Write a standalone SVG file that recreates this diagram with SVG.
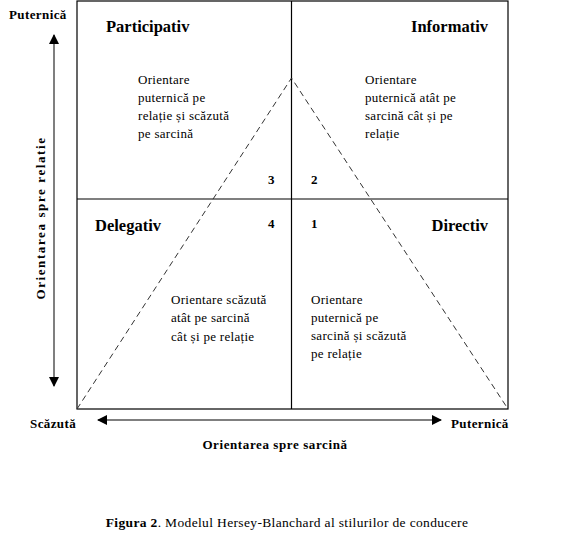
<svg xmlns="http://www.w3.org/2000/svg" width="575" height="554" viewBox="0 0 575 554">
<style>
text{font-family:"Liberation Serif","Times New Roman",serif;fill:#000}
.ttl{font-size:16.5px;font-weight:bold}
.body{font-size:13px;letter-spacing:0.3px}
.num{font-size:13px;font-weight:bold}
.axl{font-size:13px;font-weight:bold;letter-spacing:0.4px}
.frame{fill:none;stroke:#000;stroke-width:1.2}
.dash{fill:none;stroke:#333;stroke-width:1;stroke-dasharray:6,4}
.arr{stroke:#555;stroke-width:1.5;fill:none}
</style>
<defs>
<marker id="ahb" viewBox="0 0 10 10" refX="9" refY="5" markerWidth="10" markerHeight="10" orient="auto-start-reverse" markerUnits="userSpaceOnUse">
<path d="M0,0 L10,5 L0,10 z" fill="#000"/>
</marker>
</defs>
<rect width="575" height="554" fill="#fff"/>
<g id="grid">
<rect class="frame" x="77" y="1" width="431" height="408"/>
<line class="frame" x1="291.5" y1="1" x2="291.5" y2="409"/>
<line class="frame" x1="77" y1="199" x2="508" y2="199"/>
</g>
<g id="connectors">
<path class="dash" d="M77,409 L291.5,78 L508,409"/>
<line class="arr" x1="54" y1="35" x2="54" y2="386" marker-start="url(#ahb)" marker-end="url(#ahb)"/>
<line class="arr" x1="98" y1="420" x2="441" y2="420" marker-start="url(#ahb)" marker-end="url(#ahb)"/>
</g>
<g id="participativ">
<text class="ttl" x="106" y="32">Participativ</text>
<text class="body" x="138" y="84">Orientare</text>
<text class="body" x="138" y="102">puternică pe</text>
<text class="body" x="138" y="120">relație și scăzută</text>
<text class="body" x="138" y="138">pe sarcină</text>
<text class="num" x="268" y="184">3</text>
</g>
<g id="informativ">
<text class="ttl" x="488" y="32" text-anchor="end">Informativ</text>
<text class="body" x="365" y="84">Orientare</text>
<text class="body" x="365" y="102">puternică atât pe</text>
<text class="body" x="365" y="120">sarcină cât și pe</text>
<text class="body" x="365" y="138">relație</text>
<text class="num" x="311" y="184">2</text>
</g>
<g id="delegativ">
<text class="ttl" x="95" y="231">Delegativ</text>
<text class="num" x="268" y="228">4</text>
<text class="body" x="171" y="304">Orientare scăzută</text>
<text class="body" x="171" y="322">atât pe sarcină</text>
<text class="body" x="171" y="341">cât și pe relație</text>
</g>
<g id="directiv">
<text class="ttl" x="488" y="231" text-anchor="end">Directiv</text>
<text class="num" x="311" y="228">1</text>
<text class="body" x="311" y="304">Orientare</text>
<text class="body" x="311" y="322">puternică pe</text>
<text class="body" x="311" y="340">sarcină și scăzută</text>
<text class="body" x="311" y="358">pe relație</text>
</g>
<g id="axes-labels">
<text class="axl" x="9" y="19">Puternică</text>
<text class="axl" x="45" y="218" text-anchor="middle" transform="rotate(-90 45 218)" style="letter-spacing:1.6px">Orientarea spre relatie</text>
<text class="axl" x="30" y="428">Scăzută</text>
<text class="axl" x="451" y="428">Puternică</text>
<text class="axl" x="275" y="449" text-anchor="middle" style="letter-spacing:0.6px">Orientarea spre sarcină</text>
</g>
<g id="caption">
<text x="287" y="527" text-anchor="middle" style="font-size:13.5px;letter-spacing:0.35px"><tspan font-weight="bold">Figura 2</tspan>. Modelul Hersey-Blanchard al stilurilor de conducere</text>
</g>
</svg>
